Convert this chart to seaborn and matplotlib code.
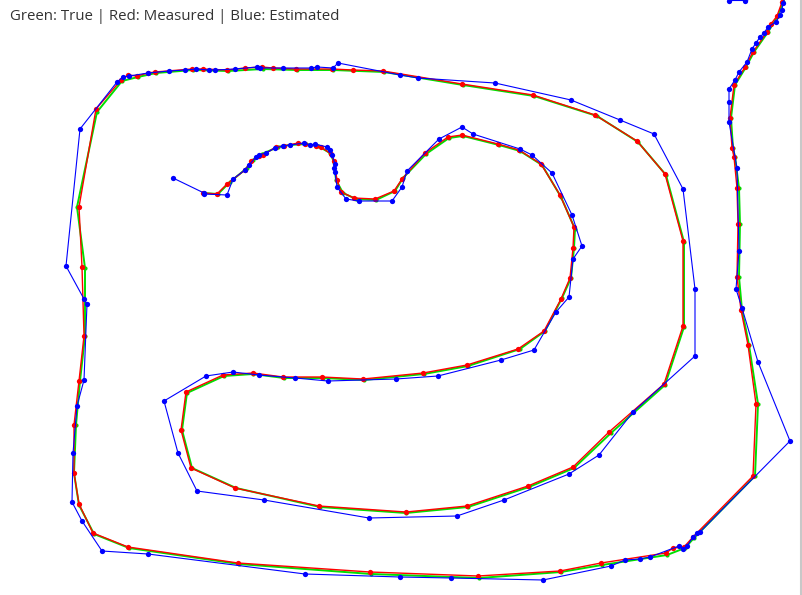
import matplotlib
matplotlib.use("Agg")
import matplotlib.pyplot as plt
import seaborn as sns

# True path (green), pixel-space coordinates
true_x = [203, 218, 230, 247, 253, 262, 278, 290, 306, 318, 330, 334, 336, 343, 356, 376, 395, 403,
          426, 449, 463, 499, 520, 542, 561, 575, 574, 571, 562, 545, 520, 468, 424, 364, 323, 284,
          253, 224, 187, 182, 192, 236, 320, 406, 468, 529, 574, 611, 665, 684, 684, 666, 638, 597,
          534, 463, 384, 333, 297, 263, 228, 193, 156, 138, 122, 97, 77, 85, 85, 80, 76, 74, 79, 94,
          129, 239, 371, 479, 561, 602, 667, 685, 694, 755, 758, 749, 742, 739, 740, 739, 735, 733,
          731, 735, 746, 754, 768, 778, 783, 787]
true_y = [193, 194, 182, 168, 160, 154, 147, 145, 144, 146, 153, 162, 180, 193, 199, 200, 191, 178,
          154, 138, 136, 145, 151, 165, 197, 229, 248, 278, 298, 331, 349, 366, 374, 380, 378, 378,
          374, 376, 393, 430, 468, 488, 507, 513, 507, 487, 468, 433, 385, 327, 242, 175, 142, 116,
          96, 85, 72, 70, 70, 69, 71, 70, 73, 77, 81, 112, 207, 268, 336, 381, 425, 473, 505, 534,
          548, 564, 574, 578, 572, 565, 555, 548, 538, 476, 404, 345, 310, 277, 224, 188, 157, 148,
          118, 85, 67, 52, 32, 16, 2, -10]

# Measured path (red)
meas_x = [203, 217, 227, 245, 251, 259, 263, 276, 284, 298, 305, 316, 321, 331, 334, 337, 341, 354,
          375, 394, 402, 425, 448, 462, 498, 519, 541, 560, 574, 573, 570, 561, 544, 518, 467, 423,
          363, 322, 283, 253, 223, 186, 181, 191, 235, 319, 406, 467, 528, 573, 609, 664, 683, 683,
          665, 637, 595, 533, 462, 383, 353, 332, 296, 273, 262, 245, 227, 203, 192, 155, 148, 137,
          128, 121, 96, 79, 82, 84, 79, 74, 74, 79, 93, 128, 238, 370, 478, 560, 601, 666, 673, 684,
          693, 753, 756, 748, 741, 737, 738, 737, 734, 732, 730, 734, 745, 753, 767, 771, 777, 782, 786]
meas_y = [193, 194, 184, 170, 161, 156, 155, 147, 146, 143, 144, 146, 147, 154, 161, 180, 192, 198,
          199, 191, 179, 153, 137, 135, 144, 150, 164, 195, 227, 248, 278, 299, 331, 349, 365, 373,
          379, 377, 377, 373, 375, 392, 430, 468, 488, 506, 512, 506, 486, 467, 432, 384, 326, 241,
          174, 141, 115, 95, 84, 71, 70, 69, 69, 68, 67, 68, 70, 69, 69, 72, 73, 76,
          75, 80, 109, 207, 267, 336, 381, 425, 473, 504, 533, 547, 563, 572, 576, 571, 563, 553, 548, 547,
          537, 476, 404, 345, 310, 277, 224, 188, 157, 148, 118, 85, 67, 52, 32, 24, 16, 2, -10]

# Estimated path (blue)
est_x = [173, 204, 204, 227, 233, 245, 249, 256, 259, 266, 275, 283, 290, 304, 310, 315, 327, 330,
         332, 335, 334, 335, 337, 346, 359, 392, 402, 407, 439, 462, 473, 520, 532, 552, 572, 582,
         573, 569, 556, 534, 501, 438, 396, 328, 295, 259, 233, 206, 164, 178, 197, 264, 369, 457,
         504, 569, 599, 633, 695, 695, 683, 654, 620, 571, 495, 418, 400, 338, 333, 317, 311, 283,
         260, 257, 235, 215, 209, 196, 185, 169, 148, 129, 123, 117, 80, 66, 84, 87, 84, 77, 73, 72,
         82, 102, 148, 305, 400, 451, 543, 611, 625, 640, 650, 679, 683, 687, 693, 697, 700, 790,
         758, 742, 736, 739, 737, 729, 729, 729, 735, 739, 747, 752, 756, 760, 764, 768, 776, 780,
         782, 783, 788, 745, 729, 715]
est_y = [178, 193, 194, 195, 179, 170, 165, 157, 155, 153, 148, 146, 145, 143, 145, 144, 147, 150,
         155, 164, 168, 172, 187, 199, 201, 201, 187, 171, 139, 127, 134, 149, 155, 173, 215, 246,
         259, 297, 312, 350, 360, 376, 379, 381, 378, 375, 372, 376, 401, 453, 491, 500, 518, 516,
         500, 474, 455, 412, 356, 289, 189, 134, 120, 100, 83, 78, 75, 63, 68, 67, 68, 68,
         68, 67, 69, 70, 70, 69, 70, 71, 73, 76, 77, 82, 129, 266, 299, 304, 380, 406, 453, 502,
         521, 551, 554, 574, 577, 578, 580, 566, 560, 559, 557, 546, 549, 546, 537, 533, 532, 441,
         362, 308, 289, 251, 168, 122, 102, 89, 80, 72, 62, 49, 43, 37, 33, 27, 22, 15,
         10, 3, -10, 0.5, 0.5, -10]

title_text = "Green: True | Red: Measured | Blue: Estimated"

sns.set_style("white")
fig = plt.figure(figsize=(8.02, 5.95), dpi=100)
ax = fig.add_axes([0, 0, 1, 1])

sns.lineplot(x=true_x, y=true_y, sort=False, estimator=None, ax=ax, color="#00e000",
             linewidth=1.4, marker="o", markersize=3.0, markeredgewidth=0)
sns.lineplot(x=meas_x, y=meas_y, sort=False, estimator=None, ax=ax, color="#ff0000",
             linewidth=1.0, marker="o", markersize=3.8, markeredgewidth=0)
sns.lineplot(x=est_x, y=est_y, sort=False, estimator=None, ax=ax, color="#0000ff",
             linewidth=0.8, marker="o", markersize=3.8, markeredgewidth=0)

# window border on the right
ax.axvline(800.5, color="#c8c8c8", linewidth=1.5)

ax.set_xlim(0, 802)
ax.set_ylim(595, 0)
ax.axis("off")

fig.text(10 / 802, 1 - 17 / 595, title_text, fontsize=10.8, color="#333333",
         family=["Open Sans", "DejaVu Sans"], va="center", ha="left")

fig.savefig("out.png", dpi=100)
